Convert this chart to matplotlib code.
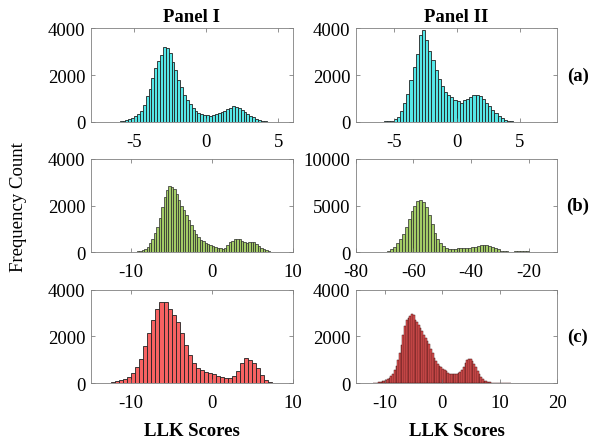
import numpy as np
import matplotlib
matplotlib.use("Agg")
import matplotlib.pyplot as plt

plt.rcParams['font.family'] = ['Liberation Serif', 'DejaVu Serif']
plt.rcParams['axes.unicode_minus'] = False

# Panel I (a): bins from -6.6, width 0.2
cnt_a1 = [5, 10, 15, 25, 40, 70, 110, 170, 240, 340, 470, 720, 1100, 1420, 1900,
          2300, 2600, 2850, 3200, 3170, 2950, 2550, 2200, 1800, 1500, 1150, 950,
          760, 600, 450, 380, 330, 300, 285, 270, 280, 320, 370, 420, 480, 540,
          580, 660, 620, 580, 510, 420, 340, 260, 190, 130, 80, 45, 20, 10, 5]
# Panel II (a): bins from -6.5, width 0.25
cnt_a2 = [5, 8, 12, 20, 35, 60, 110, 220, 450, 800, 1200, 1800, 2350, 2900, 3700,
          3920, 3500, 3050, 2650, 2200, 1850, 1550, 1300, 1150, 1050, 950, 880,
          830, 920, 1000, 1080, 1140, 1170, 1100, 960, 820, 660, 520, 400, 270,
          160, 90, 45, 25, 15, 10, 8, 6, 5, 4, 3, 2]
# Panel I (b): bins from -10.5, width 0.3
cnt_b1 = [5, 10, 15, 25, 40, 60, 100, 160, 240, 380, 580, 820, 1100, 1450, 1950,
          2350, 2650, 2830, 2800, 2700, 2500, 2250, 2000, 1800, 1600, 1380, 1150,
          960, 780, 640, 540, 470, 410, 360, 310, 270, 230, 200, 170, 160, 200,
          300, 420, 500, 560, 580, 550, 480, 420, 400, 430, 450, 420, 350, 260,
          180, 120, 80, 50, 25, 15, 8, 4]
# Panel II (b): bins from -74, width 1
cnt_b2 = [2, 5, 10, 30, 80, 170, 330, 600, 950, 1400, 1950, 2700, 3550, 4400,
          5000, 5450, 5600, 5400, 4800, 4000, 3000, 2100, 1400, 950, 650, 470,
          380, 370, 390, 420, 440, 450, 470, 500, 550, 600, 680, 730, 770, 780,
          720, 600, 460, 300, 180, 120, 90, 80, 80, 90, 110, 130, 120, 90, 60,
          35, 20, 10, 5, 2]
# Panel I (c): bins from -12.5, width 0.5
cnt_c1 = [40, 80, 130, 180, 260, 420, 700, 1050, 1570, 2160, 2700, 3150, 3450,
          3450, 3190, 2910, 2630, 2140, 1650, 1220, 870, 660, 550, 490, 450, 380,
          310, 270, 220, 240, 310, 520, 840, 1080, 1010, 870, 660, 340, 140, 50,
          15, 5]
# Panel II (c): bins from -12, width 0.3
cnt_c2 = [5, 10, 15, 30, 50, 70, 100, 130, 170, 230, 300, 400, 560, 750, 1000,
          1300, 1650, 2050, 2450, 2680, 2800, 2860, 2950, 2900, 2720, 2600, 2490,
          2350, 2220, 2080, 1950, 1800, 1660, 1480, 1280, 1080, 930, 820, 750,
          700, 620, 570, 500, 440, 410, 390, 380, 380, 390, 420, 460, 560, 700,
          840, 970, 1050, 1020, 950, 830, 700, 520, 380, 280, 180, 110, 70, 45,
          30, 20, 15, 12, 10, 8, 7, 6, 5, 5, 4, 4, 3]

# (counts, first edge, bin width, xlim, xticks, ylim, yticks, colour, edge colour, edge width)
panels = [
    [(cnt_a1, -6.6, 0.2, (-8, 6), [-5, 0, 5], 4000, [0, 2000, 4000], '#55E8E8', '#222222', 0.6),
     (cnt_a2, -6.5, 0.25, (-8, 8), [-5, 0, 5], 4000, [0, 2000, 4000], '#55E8E8', '#222222', 0.6)],
    [(cnt_b1, -10.5, 0.3, (-15, 10), [-10, 0, 10], 4000, [0, 2000, 4000], '#A3CC66', '#2a2a2a', 0.5),
     (cnt_b2, -74, 1.0, (-80, -10), [-80, -60, -40, -20], 10000, [0, 5000, 10000], '#A3CC66', '#2a2a2a', 0.5)],
    [(cnt_c1, -12.5, 0.5, (-15, 10), [-10, 0, 10], 4000, [0, 2000, 4000], '#F86262', '#222222', 0.6),
     (cnt_c2, -12, 0.3, (-15, 20), [-10, 0, 10, 20], 4000, [0, 2000, 4000], '#E85555', '#4a1515', 0.35)],
]

fs = 13.5
fig = plt.figure(figsize=(6.02, 4.39), dpi=100)
lefts = [0.151, 0.591]
bottoms = [0.720, 0.423, 0.125]
for r in range(3):
    for c in range(2):
        cnt, x0, w, xl, xt, ym, yt, col, ec, lw = panels[r][c]
        ax = fig.add_axes([lefts[c], bottoms[r], 0.335, 0.213])
        edges = x0 + w * np.arange(len(cnt))
        ax.bar(edges, cnt, width=w, align='edge', color=col,
               edgecolor=ec, linewidth=lw)
        ax.set_xlim(xl)
        ax.set_ylim(0, ym)
        ax.set_xticks(xt)
        ax.set_yticks(yt)
        ax.tick_params(direction='in', top=True, right=True, length=3,
                       width=0.5, color='#666666', labelsize=fs)
        ax.tick_params(axis='x', pad=8)
        ax.tick_params(axis='y', pad=4)
        for s in ax.spines.values():
            s.set_color('#808080')
            s.set_linewidth(0.6)
        if r == 0:
            ax.set_title(['Panel I', 'Panel II'][c], fontsize=fs,
                         fontweight='bold', pad=5)
        if r == 2:
            ax.set_xlabel('LLK Scores', fontsize=fs, fontweight='bold',
                          labelpad=8)
        if c == 1:
            ax.text(1.1, 0.5, ['(a)', '(b)', '(c)'][r], transform=ax.transAxes,
                    fontsize=fs, fontweight='bold', ha='center', va='center')

fig.text(0.03, 0.528, 'Frequency Count', rotation=90, fontsize=fs,
         ha='center', va='center')

plt.savefig('out.png', dpi=100)
